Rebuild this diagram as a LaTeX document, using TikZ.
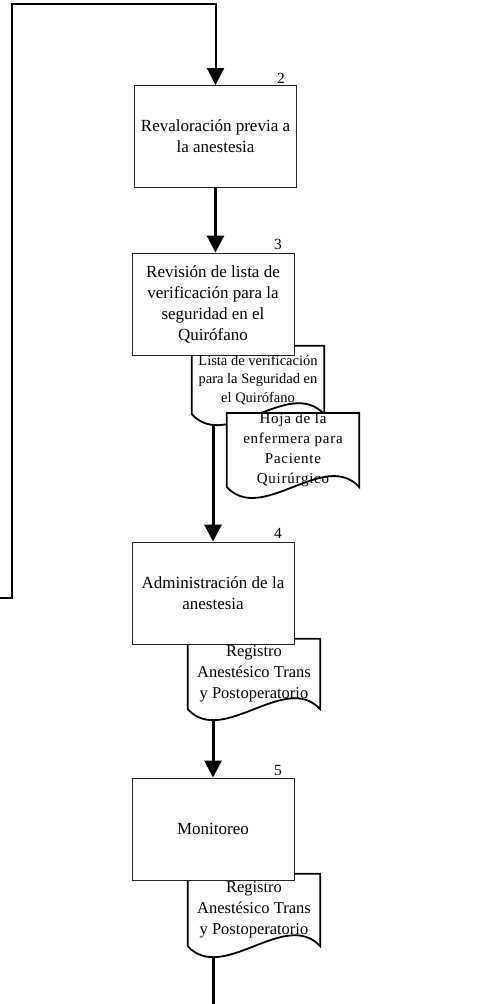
\documentclass[tikz,border=0pt]{standalone}
\usepackage{fontspec}
\setmainfont{Liberation Serif}
\usetikzlibrary{arrows.meta}
\pgfdeclarelayer{background}
\pgfsetlayers{background,main}
\begin{document}
\begin{tikzpicture}[x=1pt,y=-1pt,
  stepbox/.style={draw=black!85, line width=0.9pt, fill=white,
    minimum width=162pt, minimum height=102pt, align=center, inner sep=2pt,
    font=\fontsize{17}{21}\selectfont},
  docbox/.style={minimum width=132pt, minimum height=#1, align=center, inner sep=0pt},
  num/.style={font=\fontsize{15.5}{15.5}\selectfont, inner sep=0pt},
  docline/.style={draw=black, line width=1.8pt, fill=white, line join=miter},
  flow/.style={draw=black, line width=3pt, -{Triangle[width=17pt,length=17pt]}},
  plain/.style={draw=black, line width=3pt},
  loopline/.style={draw=black, line width=2pt, -{Triangle[width=17pt,length=17pt]}}
]
\useasboundingbox (0,0) rectangle (489,1004);

% process steps
\node[stepbox] (b2) at (215.5,136.5) {Revaloración previa a\\la anestesia};
\node[stepbox] (b3) at (213,304) {Revisión de lista de\\verificación para la\\seguridad en el\\Quirófano};
\node[stepbox] (b4) at (213,593) {Administración de la\\anestesia};
\node[stepbox] (b5) at (213,829) {Monitoreo};

% step numbers
\node[num] (n2) at (281,78) {2};
\node[num] (n3) at (278,244) {3};
\node[num] (n4) at (278,533) {4};
\node[num] (n5) at (278,770) {5};

% documents (text only; outlines go on the background layer)
\node[docbox=68pt, font=\fontsize{14.5}{18.5}\selectfont] (d1) at (258,380)
  {Lista de verificación\\para la Seguridad en\\el Quirófano};
\node[docbox=70pt, font=\fontsize{15}{20}\selectfont\addfontfeature{LetterSpace=5}] (d2) at (293,450)
  {Hoja de la\\enfermera para\\Paciente\\Quirúrgico};
\node[docbox=70pt, font=\fontsize{16.5}{21}\selectfont] (d3) at (254,674)
  {Registro\\Anestésico Trans\\y Postoperatorio};
\node[docbox=72pt, font=\fontsize{16.5}{21}\selectfont] (d4) at (254,910)
  {Registro\\Anestésico Trans\\y Postoperatorio};

% free ends of the loop and of the outgoing line
\coordinate (loopstart) at (0,598);
\coordinate (looptop) at (12,4);
\coordinate (exit) at (213,1004);

\newcommand\docshape[1]{%
  \path[docline] (#1.north west) -- (#1.north east) -- (#1.south east)
    .. controls +(-35,-38) and +(35,38) .. (#1.south west) -- cycle;}

\begin{pgfonlayer}{background}
  % connectors
  \draw[loopline] (loopstart) -| (looptop) -| (b2.north);
  \draw[flow] (b2.south) -- (b2.south |- b3.north);
  \draw[flow] (b4.north |- d1.south) -- (b4.north);
  \draw[flow] (b5.north |- d3.south) -- (b5.north);
  \draw[plain] (exit |- d4.south) -- (exit);
  % document outlines
  \docshape{d1}
  \docshape{d2}
  \docshape{d3}
  \docshape{d4}
\end{pgfonlayer}
\end{tikzpicture}
\end{document}
